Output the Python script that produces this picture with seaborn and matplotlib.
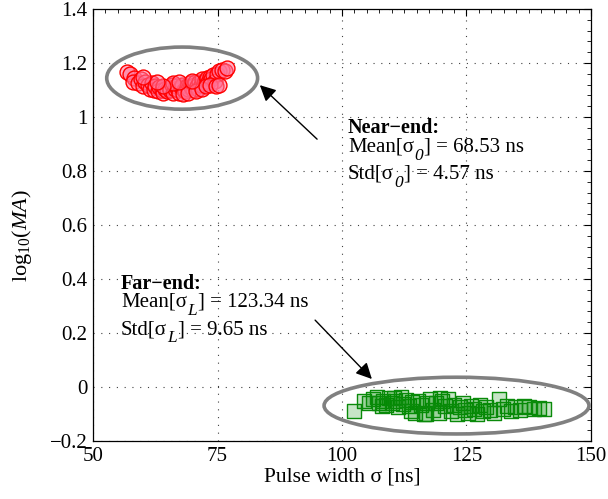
import matplotlib
matplotlib.use("Agg")
import matplotlib.pyplot as plt
import seaborn as sns
import pandas as pd
from matplotlib.patches import Ellipse
from matplotlib.ticker import MultipleLocator

# ---- data ----
near_x = [56.8, 57.5, 58.2, 58.0, 59.0, 59.6, 60.1, 60.5, 61.0, 61.4, 61.8, 62.2, 62.5, 63.0,
          63.3, 63.8, 64.1, 64.5, 64.8, 65.2, 65.5, 65.8, 66.1, 66.4, 66.7, 67.0, 67.3, 67.6,
          67.9, 68.2, 68.5, 68.8, 69.1, 69.4, 69.7, 70.0, 70.2, 70.5, 70.8, 71.0, 71.3, 71.6,
          71.9, 72.2, 72.5, 72.8, 73.1, 73.4, 73.7, 74.0, 74.4, 74.8, 75.3, 75.9, 76.5, 77.0,
          68.0, 69.0, 70.6, 71.8, 66.0, 67.2, 72.7, 73.5, 64.0, 62.8, 60.0, 74.6, 75.2, 69.8]
near_y = [1.165, 1.160, 1.145, 1.130, 1.125, 1.140, 1.115, 1.130, 1.120, 1.105, 1.125, 1.100,
          1.115, 1.095, 1.110, 1.100, 1.090, 1.105, 1.095, 1.110, 1.100, 1.120, 1.090, 1.105,
          1.115, 1.100, 1.090, 1.110, 1.120, 1.100, 1.095, 1.115, 1.105, 1.125, 1.110, 1.100,
          1.120, 1.130, 1.115, 1.105, 1.130, 1.120, 1.140, 1.125, 1.135, 1.145, 1.130, 1.150,
          1.140, 1.155, 1.135, 1.160, 1.170, 1.175, 1.170, 1.180, 1.085, 1.090, 1.095, 1.105,
          1.125, 1.130, 1.115, 1.120, 1.115, 1.130, 1.150, 1.115, 1.120, 1.135]

far_x = [102.4, 104.5, 105.5, 106.3, 107.0, 107.5, 108.2, 108.8, 109.5, 110.0, 110.6, 111.2,
         111.8, 112.3, 112.9, 113.4, 114.0, 114.6, 115.2, 115.8, 116.4, 117.0, 117.6, 118.2,
         118.8, 119.4, 120.0, 120.6, 121.2, 121.8, 122.4, 123.0, 123.6, 124.2, 124.8, 125.4,
         126.0, 126.6, 127.2, 127.8, 128.4, 129.0, 129.8, 130.6, 131.5, 132.3, 133.2, 134.0,
         134.8, 135.7, 136.6, 137.6, 138.6, 139.6, 140.6, 110.4, 113.8, 116.8, 108.0, 119.6]
far_y = [-0.088, -0.052, -0.060, -0.045, -0.035, -0.058, -0.050, -0.068, -0.040, -0.060,
         -0.050, -0.075, -0.035, -0.062, -0.048, -0.070, -0.055, -0.095, -0.050, -0.065,
         -0.100, -0.058, -0.045, -0.085, -0.060, -0.095, -0.050, -0.070, -0.045, -0.090,
         -0.065, -0.100, -0.075, -0.060, -0.085, -0.095, -0.070, -0.080, -0.100, -0.065,
         -0.090, -0.075, -0.085, -0.095, -0.045, -0.080, -0.070, -0.090, -0.075, -0.085,
         -0.070, -0.075, -0.080, -0.078, -0.080, -0.042, -0.088, -0.100, -0.070, -0.040]

near_title = "Near\u2212end:"
near_rows = [("Mean[\u03c3", "0", "] = 68.53 ns"), ("Std[\u03c3", "0", "] = 4.57 ns")]
far_title = "Far\u2212end:"
far_rows = [("Mean[\u03c3", "L", "] = 123.34 ns"), ("Std[\u03c3", "L", "] = 9.65 ns")]

# ---- style ----
sns.set_style("white")
plt.rcParams.update({
    "font.family": ["Liberation Serif", "DejaVu Serif"],
    "mathtext.fontset": "custom",
    "mathtext.rm": "Liberation Serif",
    "mathtext.it": "Liberation Serif:italic",
    "mathtext.bf": "Liberation Serif:bold",
    "text.color": "black",
    "axes.labelcolor": "black",
    "xtick.color": "black",
    "ytick.color": "black",
    "xtick.direction": "in",
    "ytick.direction": "in",
    "xtick.top": True,
    "ytick.right": True,
})

fig = plt.figure(figsize=(6.08, 4.99), dpi=100)
ax = fig.add_axes([0.153, 0.116, 0.819, 0.866])

near_df = pd.DataFrame({"x": near_x, "y": near_y})
far_df = pd.DataFrame({"x": far_x, "y": far_y})

sns.scatterplot(data=near_df, x="x", y="y", ax=ax, marker="o", s=115,
                facecolor=(1.0, 0.45, 0.6, 0.55), edgecolor="red", linewidth=1.0, zorder=3)
sns.scatterplot(data=far_df, x="x", y="y", ax=ax, marker="s", s=105,
                facecolor=(0.0, 0.55, 0.0, 0.22), edgecolor="#0a8a0a", linewidth=1.0, zorder=3)

ax.add_patch(Ellipse((67.9, 1.144), 30.3, 0.23, fill=False, edgecolor="#808080", lw=2.6, zorder=4))
ax.add_patch(Ellipse((123.0, -0.0685), 53.2, 0.21, fill=False, edgecolor="#808080", lw=2.6, zorder=4))

ax.set_xlim(50, 150)
ax.set_ylim(-0.2, 1.4)
ax.xaxis.set_minor_locator(MultipleLocator(2.5))
ax.yaxis.set_minor_locator(MultipleLocator(0.04))
ax.set_yticks([-0.2, 0, 0.2, 0.4, 0.6, 0.8, 1, 1.2, 1.4])
ax.set_yticklabels(["\u22120.2", "0", "0.2", "0.4", "0.6", "0.8", "1", "1.2", "1.4"])
ax.set_xticks([50, 75, 100, 125, 150])
ax.set_xticklabels(["50", "75", "100", "125", "150"])
ax.tick_params(which="major", length=5, width=0.8, labelsize=15)
ax.tick_params(which="minor", length=3, width=0.6)
ax.tick_params(axis="y", pad=4)
ax.tick_params(axis="x", pad=4)
ax.grid(True, which="major", linestyle=(0, (1, 6)), color="0.25", linewidth=0.8)
for sp in ax.spines.values():
    sp.set_color("black")
    sp.set_linewidth(0.9)

ax.set_xlabel("Pulse width \u03c3 [ns]", fontsize=15.5, labelpad=1)
ax.set_ylabel(r"log$_{10}$($\mathit{MA}$)", fontsize=16, labelpad=3)
ax.yaxis.set_label_coords(-0.118, 0.475)

# annotations
fs = 15
title_fs = 14.5
sub_fs = 12.5


def sub_line(x, y, parts):
    pre, sub, post = parts
    t1 = ax.text(x, y, pre, fontsize=fs, va="baseline", ha="left", zorder=5)
    t2 = ax.annotate(sub, xy=(1, 0), xycoords=t1, xytext=(0.5, -5.0),
                     textcoords="offset points", fontsize=sub_fs, style="italic",
                     va="bottom", ha="left", zorder=5)
    ax.annotate(post, xy=(1, 0), xycoords=(t2, t1), xytext=(0.5, 0),
                textcoords="offset points", fontsize=fs, va="bottom", ha="left", zorder=5)


ax.text(101.2, 0.942, near_title, fontsize=title_fs, fontweight="bold", va="baseline", ha="left", zorder=5)
sub_line(101.2, 0.872, near_rows[0])
sub_line(101.2, 0.772, near_rows[1])
ax.text(55.6, 0.365, far_title, fontsize=title_fs, fontweight="bold", va="baseline", ha="left", zorder=5)
sub_line(55.6, 0.297, far_rows[0])
sub_line(55.6, 0.195, far_rows[1])

arrow = dict(arrowstyle="-|>", mutation_scale=24, color="black", lw=1.0, shrinkA=0, shrinkB=0)
ax.annotate("", xy=(83.5, 1.118), xytext=(95.0, 0.918), arrowprops=arrow, zorder=5)
ax.annotate("", xy=(106.0, 0.030), xytext=(94.6, 0.248), arrowprops=arrow, zorder=5)

fig.savefig("out.png", dpi=100)
